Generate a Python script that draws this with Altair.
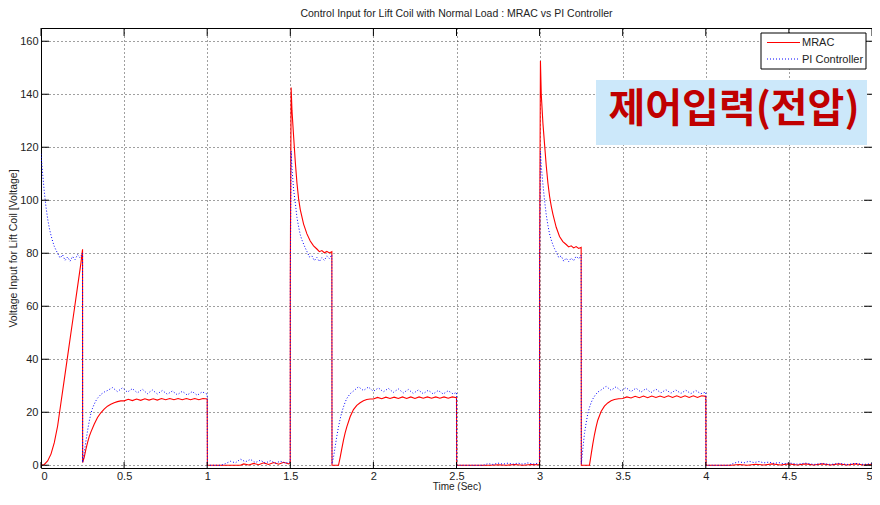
import altair as alt
import pandas as pd

# ---------------- data ----------------
mrac_t = [0, 0.02, 0.04, 0.06, 0.08, 0.10, 0.12, 0.14, 0.16, 0.18, 0.20, 0.22, 0.24, 0.25,
          0.2505, 0.26, 0.27, 0.28, 0.29, 0.30, 0.32, 0.34, 0.36, 0.38, 0.40, 0.42, 0.44, 0.46, 0.48,
          0.500, 0.525, 0.550, 0.575, 0.600, 0.625, 0.650, 0.675, 0.700, 0.725, 0.750, 0.775,
          0.800, 0.825, 0.850, 0.875, 0.900, 0.925, 0.950, 0.975, 1.000,
          1.0005, 1.001, 1.10, 1.20, 1.22, 1.25, 1.28, 1.31, 1.34, 1.37, 1.40, 1.43, 1.46, 1.49, 1.4995,
          1.5, 1.505, 1.51, 1.52, 1.53, 1.54, 1.55, 1.56, 1.58, 1.60, 1.62, 1.64, 1.66, 1.675, 1.69,
          1.705, 1.72, 1.735, 1.75,
          1.7505, 1.751, 1.79, 1.80, 1.81, 1.82, 1.83, 1.84, 1.86, 1.88, 1.90, 1.92, 1.94, 1.96, 1.98,
          2.000, 2.025, 2.050, 2.075, 2.100, 2.125, 2.150, 2.175, 2.200, 2.225, 2.250, 2.275,
          2.300, 2.325, 2.350, 2.375, 2.400, 2.425, 2.450, 2.475, 2.500,
          2.5005, 2.501, 2.70, 2.75, 2.80, 2.85, 2.90, 2.95, 2.9995,
          3.0, 3.005, 3.01, 3.02, 3.03, 3.04, 3.05, 3.06, 3.07, 3.08, 3.10, 3.12, 3.14, 3.16, 3.175,
          3.19, 3.205, 3.22, 3.235, 3.25,
          3.2505, 3.251, 3.30, 3.31, 3.32, 3.33, 3.34, 3.35, 3.37, 3.39, 3.41, 3.43, 3.45, 3.475,
          3.500, 3.525, 3.550, 3.575, 3.600, 3.625, 3.650, 3.675, 3.700, 3.725, 3.750, 3.775,
          3.800, 3.825, 3.850, 3.875, 3.900, 3.925, 3.950, 3.975, 4.000,
          4.0005, 4.001, 4.15, 4.2, 4.25, 4.3, 4.35, 4.4, 4.45, 4.5, 4.55, 4.6, 4.65, 4.7, 4.75,
          4.8, 4.85, 4.9, 4.95, 5.0]
mrac_v = [0, 0.3, 1.6, 4.2, 8.5, 14.8, 23.6, 32.3, 41.1, 49.9, 58.6, 67.4, 76.2, 81.5,
          1.0, 3.0, 6.0, 8.5, 10.8, 12.5, 15.5, 18.0, 19.8, 21.2, 22.3, 23.0, 23.6, 24.0, 24.3,
          24.3, 24.9, 24.4, 25.0, 24.5, 25.1, 24.6, 25.1, 24.6, 25.2, 24.7, 25.2,
          24.7, 25.2, 24.7, 25.2, 24.7, 25.2, 24.7, 25.2, 25.0,
          12.0, 0, 0, 0, 0.5, 0.1, 0.7, 0.2, 0.9, 0.3, 1.0, 0.4, 1.1, 0.5, 1.0,
          72, 142.5, 134, 124, 114.5, 106.5, 100.5, 96.5, 91, 87.3, 84.6, 82.8, 81.6, 80.6, 81.0,
          80.2, 80.7, 80.1, 80.6,
          40.8, 0, 0, 3.0, 6.3, 9.5, 12.2, 14.5, 18.3, 21.0, 22.6, 23.6, 24.3, 24.8, 25.0,
          25.0, 25.6, 25.1, 25.7, 25.2, 25.7, 25.2, 25.8, 25.2, 25.8, 25.2, 25.8,
          25.3, 25.8, 25.3, 25.8, 25.3, 25.8, 25.3, 25.8, 25.5,
          12.0, 0, 0, 0.2, 0, 0.3, 0, 0.3, 0.2,
          76, 152.5, 140, 129, 121, 113, 106.5, 101.5, 97.8, 94.8, 89.8, 86.3, 84.4, 83.3, 82.4,
          82.8, 82.0, 82.5, 81.8, 82.2,
          40.8, 0, 0, 4.0, 8.0, 11.5, 14.5, 17.0, 20.3, 22.3, 23.5, 24.3, 24.8, 25.1,
          25.2, 25.8, 25.4, 26.0, 25.5, 26.1, 25.5, 26.1, 25.6, 26.1, 25.6, 26.2,
          25.6, 26.2, 25.6, 26.2, 25.6, 26.2, 25.6, 26.2, 26.0,
          12.0, 0, 0, 0.3, 0, 0.4, 0.1, 0.5, 0.1, 0.5, 0.1, 0.5, 0.1, 0.5, 0.1,
          0.5, 0.1, 0.5, 0.1, 0.4]

pi_t = [0, 0.01, 0.02, 0.03, 0.04, 0.05, 0.06, 0.07, 0.08, 0.09, 0.10, 0.115, 0.13, 0.145, 0.16,
        0.175, 0.19, 0.205, 0.22, 0.235, 0.25,
        0.2505, 0.26, 0.27, 0.28, 0.29, 0.30, 0.31, 0.32, 0.33, 0.34, 0.36, 0.38, 0.40,
        0.43, 0.46, 0.49, 0.52, 0.55, 0.58, 0.61, 0.64, 0.67, 0.70, 0.73, 0.76, 0.79, 0.82,
        0.85, 0.88, 0.91, 0.94, 0.97, 1.0,
        1.0005, 1.001, 1.08, 1.11, 1.14, 1.17, 1.20, 1.23, 1.26, 1.29, 1.32, 1.35, 1.38, 1.41,
        1.44, 1.47, 1.4995,
        1.5, 1.505, 1.51, 1.52, 1.53, 1.54, 1.55, 1.56, 1.57, 1.58, 1.59, 1.60, 1.615, 1.63,
        1.645, 1.66, 1.675, 1.69, 1.705, 1.72, 1.735, 1.75,
        1.7505, 1.751, 1.76, 1.77, 1.78, 1.79, 1.80, 1.81, 1.82, 1.83, 1.84, 1.86, 1.88,
        1.91, 1.94, 1.97, 2.00, 2.03, 2.06, 2.09, 2.12, 2.15, 2.18, 2.21, 2.24, 2.27, 2.30,
        2.33, 2.36, 2.39, 2.42, 2.45, 2.48, 2.50,
        2.5005, 2.501, 2.66, 2.69, 2.72, 2.75, 2.78, 2.81, 2.84, 2.87, 2.90, 2.93, 2.96, 2.9995,
        3.0, 3.005, 3.01, 3.02, 3.03, 3.04, 3.05, 3.06, 3.07, 3.08, 3.09, 3.10, 3.115, 3.13,
        3.145, 3.16, 3.175, 3.19, 3.205, 3.22, 3.235, 3.25,
        3.2505, 3.251, 3.26, 3.27, 3.28, 3.29, 3.30, 3.31, 3.32, 3.335, 3.35, 3.37,
        3.40, 3.43, 3.46, 3.49, 3.52, 3.55, 3.58, 3.61, 3.64, 3.67, 3.70, 3.73, 3.76, 3.79,
        3.82, 3.85, 3.88, 3.91, 3.94, 3.97, 4.0,
        4.0005, 4.001, 4.14, 4.17, 4.20, 4.23, 4.26, 4.29, 4.32, 4.35, 4.38, 4.41, 4.44, 4.47,
        4.50, 4.55, 4.60, 4.65, 4.70, 4.75, 4.80, 4.85, 4.90, 4.95, 5.0]
pi_v = [117.5, 110, 103, 97.5, 93, 89.5, 86.8, 84.5, 82.6, 81.2, 80.0, 78.2, 79.4, 77.3, 78.6,
        77.0, 78.8, 77.6, 79.5, 78.3, 80.0,
        1.0, 5.0, 9.0, 13.0, 16.5, 19.5, 21.5, 23.0, 24.3, 25.3, 26.7, 27.6, 28.2,
        29.3, 27.8, 29.2, 27.6, 28.9, 27.3, 28.7, 27.0, 28.4, 26.9, 28.2, 26.8, 28.0, 26.6,
        27.9, 26.5, 27.8, 26.4, 27.7, 26.8,
        12.0, 0, 0, 0.6, 1.5, 0.9, 2.3, 1.3, 2.2, 1.0, 1.9, 0.8, 1.7, 0.8,
        1.5, 0.8, 1.3,
        70, 118.6, 112, 104, 99, 93.5, 90, 87, 85, 83.5, 82, 80.7, 78.6, 79.0,
        77.2, 78.4, 76.9, 78.3, 77.3, 79.0, 78.0, 79.4,
        40, 0.5, 3.0, 7.0, 11.0, 14.5, 17.5, 20.0, 22.0, 23.8, 25.2, 27.0, 28.0,
        29.6, 28.2, 29.5, 27.9, 29.2, 27.7, 29.0, 27.5, 28.8, 27.3, 28.6, 27.1, 28.4, 27.0,
        28.3, 26.9, 28.2, 26.9, 28.1, 26.9, 27.5,
        12.0, 0, 0, 0.6, 0.3, 0.8, 0.4, 0.8, 0.4, 0.8, 0.4, 0.9, 0.4, 0.9,
        76, 118.6, 113, 106, 99.8, 94.5, 90.5, 87.3, 85, 83.2, 81.7, 80.5, 78.4, 79.0,
        77.0, 78.2, 76.8, 78.2, 77.2, 78.9, 77.9, 79.3,
        40, 0.5, 6.0, 12.0, 16.0, 19.5, 21.8, 23.6, 25.0, 26.5, 27.6, 28.4,
        29.8, 28.3, 29.6, 28.0, 29.3, 27.8, 29.1, 27.6, 28.9, 27.4, 28.7, 27.3, 28.5, 27.2,
        28.4, 27.1, 28.3, 27.0, 28.2, 27.0, 27.6,
        12.0, 0, 0, 0.8, 1.3, 0.9, 1.5, 1.0, 1.4, 0.9, 1.2, 0.7, 1.0, 0.5,
        0.9, 0.4, 0.8, 0.3, 0.7, 0.3, 0.7, 0.3, 0.7, 0.3, 0.6]

series_names = ["MRAC", "PI Controller"]
x_ticks = [0, 0.5, 1, 1.5, 2, 2.5, 3, 3.5, 4, 4.5, 5]
y_ticks = [0, 20, 40, 60, 80, 100, 120, 140, 160]

chart_title = "Control Input for Lift Coil with Normal Load : MRAC vs PI Controller"
x_title = "Time (Sec)"
y_title = "Voltage Input for Lift Coil [Voltage]"
annotation_text = "제어입력(전압)"

# ---------------- chart ----------------
W, H = 831, 440
FONT = "Liberation Sans"

mrac_df = pd.DataFrame({"t": mrac_t, "v": mrac_v, "series": series_names[0]})
pi_df = pd.DataFrame({"t": pi_t, "v": pi_v, "series": series_names[1]})

xs = alt.Scale(domain=[0, 5], nice=False, zero=False)
ys = alt.Scale(domain=[-1.04, 165], nice=False, zero=False)

grid_kw = dict(grid=True, gridDash=[1, 3], gridColor="#000", gridOpacity=0.75,
               ticks=False, domain=False, labelFont=FONT, labelFontSize=11,
               labelColor="#222", titleFont=FONT, titleFontWeight="normal",
               titleColor="#222")
x_axis = alt.Axis(values=x_ticks, format="~g", labelPadding=2, title=x_title,
                  titleFontSize=10, titlePadding=0, **grid_kw)
y_axis = alt.Axis(values=y_ticks, format="d", labelPadding=3, title=y_title,
                  titleFontSize=10.5, titlePadding=1, **grid_kw)

X = alt.X("t:Q", scale=xs, axis=x_axis)
Y = alt.Y("v:Q", scale=ys, axis=y_axis)

mrac_line = alt.Chart(mrac_df).mark_line(color="#ff0000", strokeWidth=1.1, clip=True).encode(x=X, y=Y)
pi_line = alt.Chart(pi_df).mark_line(color="#0000ff", strokeWidth=1, strokeDash=[1, 2],
                                     clip=True).encode(x=X, y=Y)

xt_df = pd.DataFrame({"t": x_ticks})
yt_df = pd.DataFrame({"v": y_ticks})
tick_col = "#000"
xt_bottom = alt.Chart(xt_df).mark_rule(color=tick_col).encode(x=X, y=alt.value(H), y2=alt.value(H - 6))
xt_top = alt.Chart(xt_df).mark_rule(color=tick_col).encode(x=X, y=alt.value(0), y2=alt.value(8))
yt_left = alt.Chart(yt_df).mark_rule(color=tick_col).encode(y=Y, x=alt.value(0), x2=alt.value(8))
yt_right = alt.Chart(yt_df).mark_rule(color=tick_col).encode(y=Y, x=alt.value(W), x2=alt.value(W - 8))

ann_df = pd.DataFrame({"label": [annotation_text]})
ann_box = alt.Chart(ann_df).mark_rect(fill="#cce8fa").encode(
    x=alt.value(555), x2=alt.value(826), y=alt.value(52), y2=alt.value(117))
ann_text = alt.Chart(ann_df).mark_text(
    font="Noto Sans CJK KR", fontSize=40, fontWeight="bold", color="#c00000",
    align="center", baseline="middle").encode(
    x=alt.value(693), y=alt.value(82), text="label:N")

leg_df = pd.DataFrame({"label": series_names})
leg_box = alt.Chart(leg_df.head(1)).mark_rect(fill="white", stroke="#000", strokeWidth=1).encode(
    x=alt.value(720), x2=alt.value(825), y=alt.value(5), y2=alt.value(41))
leg_l1 = alt.Chart(leg_df.head(1)).mark_rule(color="#ff0000", strokeWidth=1).encode(
    x=alt.value(726), x2=alt.value(759), y=alt.value(14.5))
leg_l2 = alt.Chart(leg_df.head(1)).mark_rule(color="#0000ff", strokeWidth=1, strokeDash=[1, 2]).encode(
    x=alt.value(726), x2=alt.value(759), y=alt.value(31))
leg_t1 = alt.Chart(leg_df.iloc[[0]]).mark_text(font=FONT, fontSize=11, color="#222", align="left",
                                               baseline="middle").encode(
    x=alt.value(761), y=alt.value(15), text="label:N")
leg_t2 = alt.Chart(leg_df.iloc[[1]]).mark_text(font=FONT, fontSize=11, color="#222", align="left",
                                               baseline="middle").encode(
    x=alt.value(761), y=alt.value(31.5), text="label:N")

chart = alt.layer(
    mrac_line, pi_line, xt_bottom, xt_top, yt_left, yt_right,
    ann_box, ann_text, leg_box, leg_l1, leg_l2, leg_t1, leg_t2
).properties(
    width=W, height=H,
    padding={"left": 33, "top": 20, "right": 0, "bottom": 23},
    autosize=alt.AutoSizeParams(type="none"),
    title=alt.TitleParams(text=chart_title, font=FONT, fontSize=10.5, fontWeight="normal",
                          color="#222", offset=8),
).configure_view(stroke="#000", strokeWidth=1)

chart.save("out.html", embed_options={"renderer": "svg", "actions": False})
